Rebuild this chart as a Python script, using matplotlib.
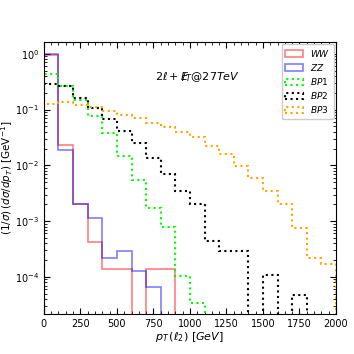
import matplotlib
matplotlib.use("Agg")
import matplotlib.pyplot as plt
import numpy as np

# bin edges: 100 GeV wide bins from 0 to 2000 GeV
edges = np.arange(0, 2001, 100)

ww = [0.97, 0.023, 0.0020, 4.2e-4, 1.4e-4, 1.4e-4, 0, 1.4e-4, 1.4e-4, 0,
      0, 0, 0, 0, 0, 0, 0, 0, 0, 0]
zz = [0.98, 0.0187, 0.0020, 1.14e-3, 2.2e-4, 2.9e-4, 1.26e-4, 6.5e-5, 0, 0,
      0, 0, 0, 0, 0, 0, 0, 0, 0, 0]
bp1 = [0.43, 0.27, 0.15, 0.076, 0.0377, 0.0149, 0.0055, 0.0017, 7.9e-4, 1.03e-4,
       3.4e-5, 0, 0, 0, 0, 0, 0, 0, 0, 0]
bp2 = [0.29, 0.27, 0.164, 0.106, 0.067, 0.042, 0.0256, 0.0134, 0.0070, 0.0035,
       0.0020, 4.4e-4, 2.9e-4, 2.9e-4, 0, 1.1e-4, 0, 4.8e-5, 0, 0]
bp3 = [0.128, 0.139, 0.123, 0.110, 0.095, 0.080, 0.070, 0.057, 0.049, 0.040,
       0.032, 0.0223, 0.0158, 0.0099, 0.0060, 0.0034, 0.0020, 7.5e-4, 2.2e-4, 1.7e-4]

centers = 0.5 * (edges[:-1] + edges[1:])

fig = plt.figure(figsize=(3.54, 3.54), dpi=100)
ax = fig.add_axes([0.124, 0.113, 0.825, 0.768])

ax.hist(centers, bins=edges, weights=ww, histtype="step",
        color="red", alpha=0.5, linewidth=1.2, label="$WW$")
ax.hist(centers, bins=edges, weights=zz, histtype="step",
        color="blue", alpha=0.5, linewidth=1.2, label="$ZZ$")
ax.hist(centers, bins=edges, weights=bp1, histtype="step",
        color="lime", linestyle=":", linewidth=1.5, label="$BP1$")
ax.hist(centers, bins=edges, weights=bp2, histtype="step",
        color="black", linestyle=":", linewidth=1.5, label="$BP2$")
ax.hist(centers, bins=edges, weights=bp3, histtype="step",
        color="orange", linestyle=":", linewidth=1.5, label="$BP3$")

ax.set_yscale("log")
ax.set_xlim(0, 2000)
ax.set_ylim(2.16e-5, 1.62)
ax.set_xticks(np.arange(0, 2001, 250))
ax.set_xticks(np.arange(0, 2001, 50), minor=True)

ax.tick_params(which="both", direction="in", top=True, right=True, labelsize=7)
ax.tick_params(which="major", length=4)
ax.tick_params(which="minor", length=2.5)

ax.set_xlabel(r"$p_T\,(\ell_2)$ $[GeV]$", fontsize=8, labelpad=1)
ax.set_ylabel(r"$(1/\sigma)\,(d\sigma/dp_T)$ [GeV$^{-1}$]", fontsize=7.5, labelpad=0)

ax.text(0.38, 0.86, r"$2\ell + E\!\!\!/_T@27TeV$", transform=ax.transAxes,
        fontsize=8)

ax.legend(loc="upper right", fontsize=6.5, borderaxespad=0.2, handlelength=2.0,
          labelspacing=0.35, framealpha=1)

fig.savefig("out.png", dpi=100)
